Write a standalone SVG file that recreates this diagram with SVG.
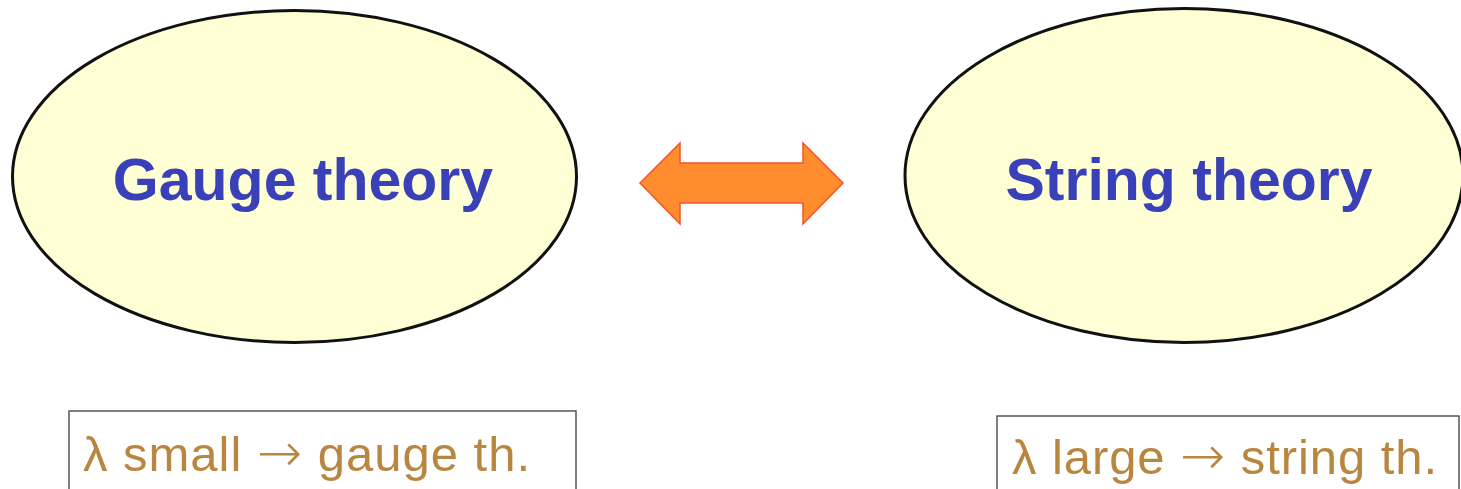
<svg xmlns="http://www.w3.org/2000/svg" width="1461" height="489" viewBox="0 0 1461 489">
<style>
.ell{fill:#ffffd6;stroke:#111;stroke-width:3}
.title{font-family:"Liberation Sans",Arial,sans-serif;font-weight:bold;font-size:59px;fill:#3a40b8;text-anchor:middle}
.box{fill:#fff;stroke:#555;stroke-width:1.5}
.note{font-family:"Liberation Sans",Arial,sans-serif;font-size:49px;fill:#b8863f}
.arr{font-family:"DejaVu Sans",sans-serif;font-size:54px;font-weight:200}
</style>
<rect width="1461" height="489" fill="#fff"/>
<g id="gauge">
<ellipse class="ell" cx="294.5" cy="176.5" rx="282" ry="166"/>
<text class="title" x="303" y="200">Gauge theory</text>
</g>
<g id="string">
<ellipse class="ell" cx="1184" cy="175.5" rx="279" ry="167"/>
<text class="title" x="1189" y="200">String theory</text>
</g>
<g id="connectors">
<path d="M640,183 L680,143 L680,163 L803,163 L803,143 L843,183 L803,224 L803,203 L680,203 L680,224 Z" fill="#ff8c2e" stroke="#f0552a" stroke-width="1.5"/>
</g>
<g id="note-small">
<rect class="box" x="69" y="411" width="507" height="82"/>
<text class="note" x="83" y="471" textLength="447" lengthAdjust="spacing">λ small <tspan class="arr">→</tspan> gauge th.</text>
</g>
<g id="note-large">
<rect class="box" x="997" y="416" width="462" height="80"/>
<text class="note" x="1012" y="474" textLength="425" lengthAdjust="spacing">λ large <tspan class="arr">→</tspan> string th.</text>
</g>
</svg>
